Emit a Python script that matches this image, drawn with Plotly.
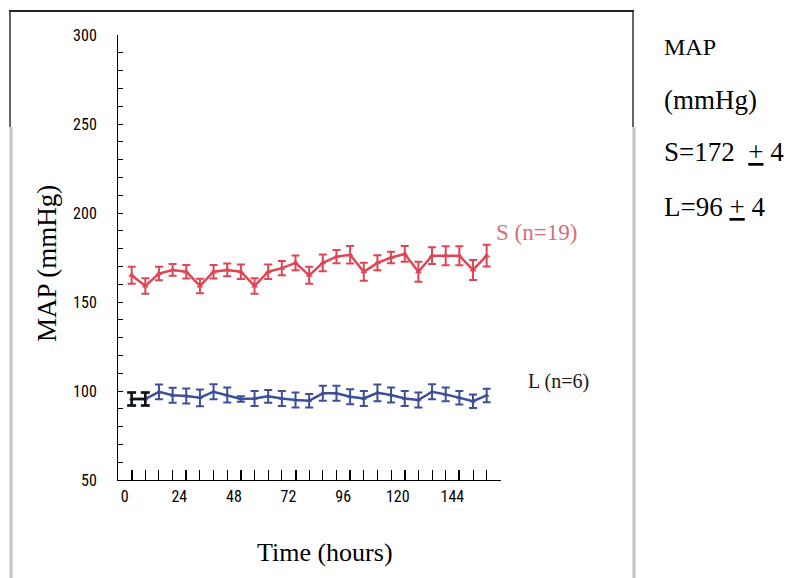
import plotly.graph_objects as go

# ---- data ----
hours = [0, 6, 12, 18, 24, 30, 36, 42, 48, 54, 60, 66, 72, 78, 84, 90, 96,
         102, 108, 114, 120, 126, 132, 138, 144, 150, 156]
S_mean = [165, 159, 166, 168, 167, 159, 167, 168, 167, 159, 167, 169, 172, 165,
          172, 175.5, 176.5, 167, 172, 175, 177, 167, 176, 176, 176, 168, 176]
S_err = [4.8, 4.3, 3.8, 3.3, 3.8, 4.1, 3.8, 3.6, 4.1, 4.3, 4.1, 4.0, 4.1, 4.8,
         4.7, 3.7, 4.9, 5.1, 4.2, 3.3, 4.4, 5.6, 4.7, 5.3, 5.3, 5.6, 6.1]
L_mean = [95.5, 95.5, 99.5, 97.6, 97.2, 96.2, 99.6, 97.7, 95.5, 95.8, 97.0, 95.8,
          94.9, 94.5, 98.7, 98.7, 96.8, 95.8, 99.0, 97.7, 95.8, 94.9, 99.6, 98.1,
          96.2, 94.3, 97.5]
L_err = [3.6, 3.6, 4.2, 4.2, 4.2, 4.7, 4.2, 4.2, 1.5, 4.2, 3.6, 4.2, 4.2, 3.8,
         4.2, 4.2, 4.2, 4.2, 4.7, 4.2, 4.2, 4.2, 4.2, 3.8, 3.8, 3.8, 3.8]
x_ticks = [0, 24, 48, 72, 96, 120, 144]
y_ticks = [50, 100, 150, 200, 250, 300]

# the page body has an 8px margin, so the figure is placed at (8, 8)
OFF = 8
WIN_W, WIN_H = 797, 578
W, H = WIN_W - OFF, WIN_H - OFF
S_COLOR = "#df4653"
L_COLOR = "#3e4f97"
SERIF = "Liberation Serif, Times New Roman, serif"
NARROW = "Liberation Sans Narrow, Arial Narrow, Roboto Condensed, DejaVu Sans Condensed, sans-serif"


def px(x):
    return (x - OFF) / W


def py(y):
    return 1 - (y - OFF) / H


fig = go.Figure()
fig.add_trace(go.Scatter(
    x=hours, y=S_mean, mode="lines+markers",
    line=dict(color=S_COLOR, width=2.5),
    marker=dict(symbol="triangle-up", size=6, color=S_COLOR),
    error_y=dict(type="data", array=S_err, color=S_COLOR, thickness=2, width=4),
))
fig.add_trace(go.Scatter(
    x=hours, y=L_mean, mode="lines+markers",
    line=dict(color=L_COLOR, width=2.5),
    marker=dict(symbol="triangle-up", size=5, color=L_COLOR),
    error_y=dict(type="data", array=L_err, color=L_COLOR, thickness=2, width=4),
))
fig.add_trace(go.Scatter(
    x=hours[:2], y=L_mean[:2], mode="lines",
    line=dict(color="#111111", width=2.5),
    error_y=dict(type="data", array=L_err[:2], color="#111111", thickness=2.5, width=4.5),
))

fig.update_layout(
    width=W, height=H,
    margin=dict(l=0, r=0, t=0, b=0, autoexpand=False),
    paper_bgcolor="white", plot_bgcolor="white",
    showlegend=False,
    xaxis=dict(
        domain=[px(118), px(501)], range=[-6, 162.3],
        automargin=False,
        tickmode="array", tickvals=x_ticks, ticktext=[str(v) for v in x_ticks],
        ticks="inside", ticklen=10, tickwidth=2, tickcolor="black",
        minor=dict(tickmode="linear", tick0=0, dtick=6, ticks="inside",
                   ticklen=10, tickwidth=1, tickcolor="black"),
        showline=True, linecolor="black", linewidth=1,
        showgrid=False, zeroline=False,
        ticklabelshift=-7, ticklabelstandoff=2,
        tickfont=dict(family=NARROW, size=16, color="black"),
    ),
    yaxis=dict(
        domain=[py(480), py(35)], range=[50, 300],
        automargin=False,
        tickmode="array", tickvals=y_ticks, ticktext=[str(v) for v in y_ticks],
        ticks="inside", ticklen=5, tickwidth=1, tickcolor="black",
        minor=dict(tickmode="linear", tick0=50, dtick=10, ticks="inside",
                   ticklen=5, tickwidth=1, tickcolor="black"),
        showline=True, linecolor="black", linewidth=1,
        showgrid=False, zeroline=False,
        ticklabelstandoff=17,
        tickfont=dict(family=NARROW, size=16, color="black"),
    ),
)

ann = [
    dict(text="S (n=19)", x=px(494), y=py(232), xanchor="left", yanchor="middle",
         font=dict(family=SERIF, size=23, color="#d46e7a")),
    dict(text="L (n=6)", x=px(526), y=py(381), xanchor="left", yanchor="middle",
         font=dict(family=SERIF, size=20, color="#1a1a1a")),
    dict(text="Time (hours)", x=px(325), y=py(552), xanchor="center", yanchor="middle",
         font=dict(family=SERIF, size=26, color="black")),
    dict(text="MAP (mmHg)", x=px(47), y=py(264), xanchor="center", yanchor="middle",
         textangle=-90, font=dict(family=SERIF, size=27, color="black")),
    dict(text="MAP", x=px(662), y=py(47), xanchor="left", yanchor="middle",
         font=dict(family=SERIF, size=24, color="black")),
    dict(text="(mmHg)", x=px(662), y=py(100), xanchor="left", yanchor="middle",
         font=dict(family=SERIF, size=27, color="black")),
    dict(text="S=172  <u>+</u> 4", x=px(662), y=py(152), xanchor="left", yanchor="middle",
         font=dict(family=SERIF, size=27, color="black")),
    dict(text="L=96 <u>+</u> 4", x=px(662), y=py(207), xanchor="left", yanchor="middle",
         font=dict(family=SERIF, size=27, color="black")),
]
for a in ann:
    a.update(xref="paper", yref="paper", showarrow=False)
fig.update_layout(annotations=ann)

shapes = [
    dict(x0=px(9), x1=px(634), y0=py(11), y1=py(11), line=dict(color="#222222", width=2)),
    dict(x0=px(10), x1=px(10), y0=py(11), y1=py(127), line=dict(color="#333333", width=1.5)),
    dict(x0=px(11), x1=px(11), y0=py(127), y1=py(578), line=dict(color="#c4c4c4", width=3)),
    dict(x0=px(633), x1=px(633), y0=py(11), y1=py(127), line=dict(color="#333333", width=1.5)),
    dict(x0=px(634), x1=px(634), y0=py(127), y1=py(578), line=dict(color="#c4c4c4", width=3)),
]
for s in shapes:
    s.update(type="line", xref="paper", yref="paper")
fig.update_layout(shapes=shapes)

fig.write_html("out.html")
